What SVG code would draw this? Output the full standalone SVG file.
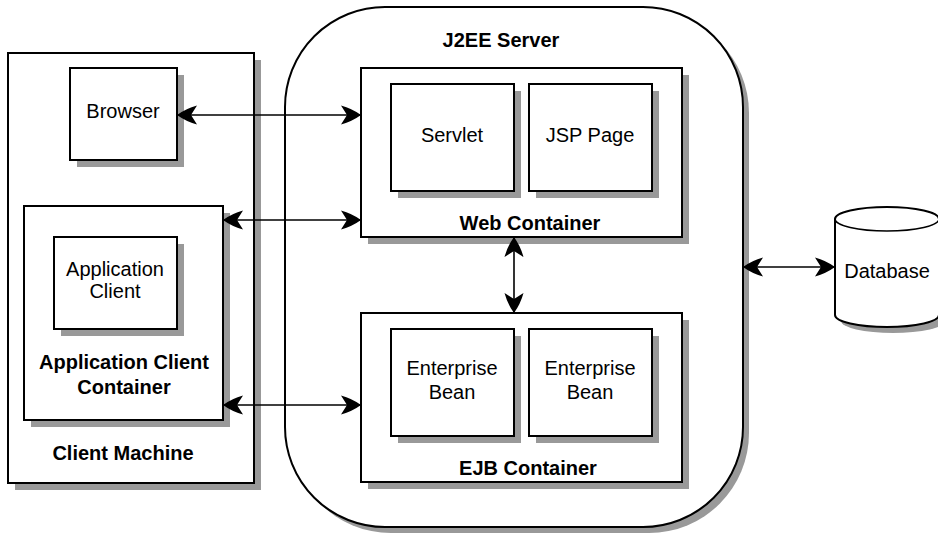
<svg xmlns="http://www.w3.org/2000/svg" width="938" height="533" viewBox="0 0 938 533">
<style>
.box{fill:#fff;stroke:#000;stroke-width:2}
.sh{fill:#999}
.t{font-family:"Liberation Sans",Arial,sans-serif;font-size:20px;text-anchor:middle;fill:#000}
.b{font-weight:bold}
.c{stroke:#000;stroke-width:1.6;fill:none}
</style>
<defs>
<marker id="ah" markerUnits="userSpaceOnUse" markerWidth="24" markerHeight="22" viewBox="-22 -11 24 22" refX="0" refY="0" orient="auto-start-reverse">
<path d="M0,0 Q-9,-6.5 -20,-9.5 L-14,0 L-20,9.5 Q-9,6.5 0,0 Z" fill="#000"/>
</marker>
</defs>
<rect width="938" height="533" fill="#fff"/>
<g id="client-machine">
<rect class="sh" x="15" y="60" width="246" height="430"/>
<rect class="box" x="8" y="53" width="246" height="430"/>
<text class="t b" x="123" y="460">Client Machine</text>
</g>
<g id="browser">
<rect class="sh" x="77" y="75" width="107" height="92"/>
<rect class="box" x="70" y="68" width="107" height="92"/>
<text class="t" x="123" y="118">Browser</text>
</g>
<g id="app-client-container">
<rect class="sh" x="31" y="213" width="199" height="214"/>
<rect class="box" x="24" y="206" width="199" height="214"/>
<text class="t b" x="124" y="369">Application Client</text>
<text class="t b" x="124" y="394">Container</text>
</g>
<g id="app-client">
<rect class="sh" x="61" y="244" width="123" height="92"/>
<rect class="box" x="54" y="237" width="123" height="92"/>
<text class="t" x="115" y="276">Application</text>
<text class="t" x="115" y="298">Client</text>
</g>
<g id="j2ee-server">
<rect class="sh" x="291" y="13" width="458" height="520" rx="100" ry="100"/>
<rect class="box" x="285" y="7" width="458" height="520" rx="100" ry="100"/>
<text class="t b" x="501" y="47">J2EE Server</text>
</g>
<g id="web-container">
<rect class="sh" x="368" y="75" width="321" height="169"/>
<rect class="box" x="361" y="68" width="321" height="169"/>
<text class="t b" x="530" y="230">Web Container</text>
</g>
<g id="servlet">
<rect class="sh" x="398" y="91" width="123" height="107"/>
<rect class="box" x="391" y="84" width="123" height="107"/>
<text class="t" x="452" y="142">Servlet</text>
</g>
<g id="jsp-page">
<rect class="sh" x="536" y="91" width="123" height="107"/>
<rect class="box" x="529" y="84" width="123" height="107"/>
<text class="t" x="590" y="142">JSP Page</text>
</g>
<g id="ejb-container">
<rect class="sh" x="368" y="320" width="321" height="169"/>
<rect class="box" x="361" y="313" width="321" height="169"/>
<text class="t b" x="528" y="475">EJB Container</text>
</g>
<g id="enterprise-bean-1">
<rect class="sh" x="398" y="336" width="123" height="107"/>
<rect class="box" x="391" y="329" width="123" height="107"/>
<text class="t" x="452" y="375">Enterprise</text>
<text class="t" x="452" y="399">Bean</text>
</g>
<g id="enterprise-bean-2">
<rect class="sh" x="536" y="336" width="123" height="107"/>
<rect class="box" x="529" y="329" width="123" height="107"/>
<text class="t" x="590" y="375">Enterprise</text>
<text class="t" x="590" y="399">Bean</text>
</g>
<g id="database">
<path class="sh" d="M841,225 A52,12 0 0,1 945,225 L945,321 A52,12 0 0,1 841,321 Z"/>
<path class="box" d="M835,219 A52,12 0 0,1 939,219 L939,315 A52,12 0 0,1 835,315 Z"/>
<path class="c" stroke-width="2" d="M835,219 A52,12 0 0,0 939,219"/>
<text class="t" x="887" y="278">Database</text>
</g>
<g id="connectors">
<line class="c" x1="177" y1="115" x2="361" y2="115" marker-start="url(#ah)" marker-end="url(#ah)"/>
<line class="c" x1="223" y1="220" x2="361" y2="220" marker-start="url(#ah)" marker-end="url(#ah)"/>
<line class="c" x1="223" y1="405" x2="361" y2="405" marker-start="url(#ah)" marker-end="url(#ah)"/>
<line class="c" x1="514" y1="237" x2="514" y2="313" marker-start="url(#ah)" marker-end="url(#ah)"/>
<line class="c" x1="743" y1="267" x2="835" y2="267" marker-start="url(#ah)" marker-end="url(#ah)"/>
</g>
</svg>
